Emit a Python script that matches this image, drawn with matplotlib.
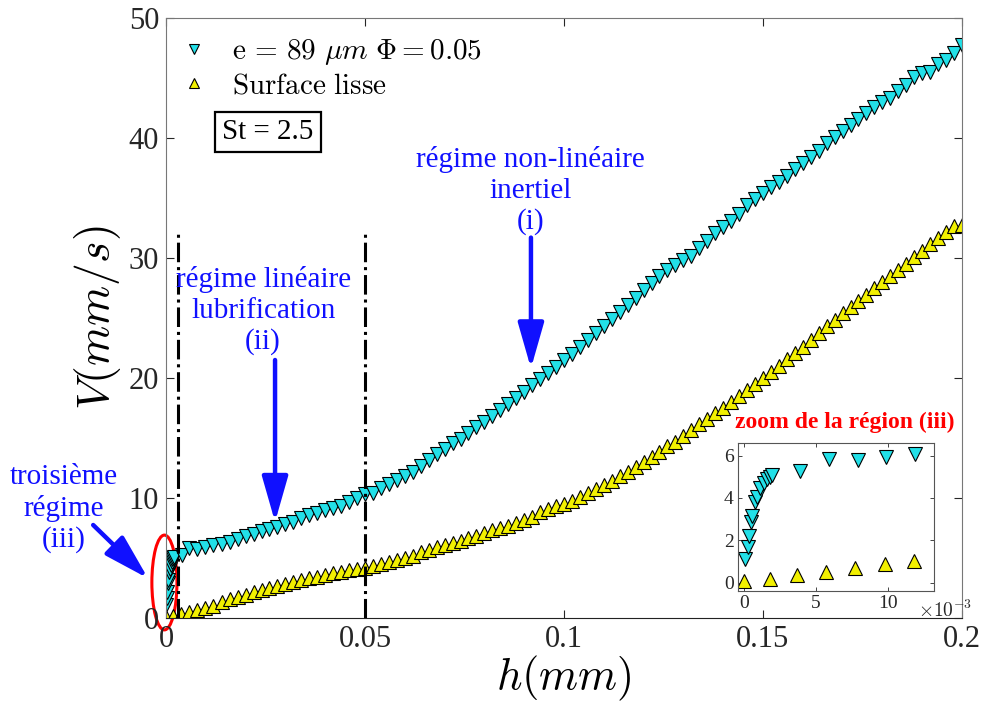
import numpy as np
import matplotlib
matplotlib.use('Agg')
import matplotlib.pyplot as plt
from matplotlib.patches import Ellipse

plt.rcParams['font.family'] = ['Liberation Serif', 'DejaVu Serif']
plt.rcParams['mathtext.fontset'] = 'cm'

# rough surface e = 89 um, Phi = 0.05 (cyan, down triangles)
h_rough = [0.00007, 0.00026, 0.00037, 0.00049, 0.00058, 0.00076, 0.00093, 0.00116, 0.00139, 0.00162, 0.00181, 0.00197,
           0.0039, 0.0059, 0.0079, 0.0099, 0.0119,
           0.014, 0.016, 0.018, 0.020, 0.022, 0.024, 0.026, 0.028, 0.030, 0.032, 0.034, 0.036, 0.038, 0.040,
           0.042, 0.044, 0.046, 0.048, 0.050, 0.052, 0.054, 0.056, 0.058, 0.060, 0.062, 0.064, 0.066, 0.068,
           0.070, 0.072, 0.074, 0.076, 0.078, 0.080, 0.082, 0.084, 0.086, 0.088, 0.090, 0.092, 0.094, 0.096,
           0.098, 0.100, 0.102, 0.104, 0.106, 0.108, 0.110, 0.112, 0.114, 0.116, 0.118, 0.120, 0.122, 0.124,
           0.126, 0.128, 0.130, 0.132, 0.134, 0.136, 0.138, 0.140, 0.142, 0.144, 0.146, 0.148, 0.150, 0.152,
           0.154, 0.156, 0.158, 0.160, 0.162, 0.164, 0.166, 0.168, 0.170, 0.172, 0.174, 0.176, 0.178, 0.180,
           0.182, 0.184, 0.186, 0.188, 0.190, 0.192, 0.194, 0.196, 0.198, 0.200]
v_rough = [1.1, 1.7, 2.2, 2.88, 3.16, 3.82, 4.06, 4.45, 4.69, 4.88, 5.0, 5.08,
           5.27, 5.82, 5.79, 5.92, 6.07,
           6.15, 6.33, 6.6, 6.82, 7.02, 7.22, 7.42, 7.62, 7.82, 8.03, 8.3, 8.56, 8.78, 8.97,
           9.15, 9.35, 9.65, 10.0, 10.3, 10.45, 10.8, 11.15, 11.5, 11.85, 12.2, 12.7, 13.2, 13.65,
           14.1, 14.55, 14.95, 15.4, 15.9, 16.35, 16.85, 17.35, 17.8, 18.3, 18.8, 19.4, 19.95, 20.45,
           20.95, 21.5, 22.0, 22.6, 23.2, 23.75, 24.3, 24.9, 25.5, 26.1, 26.7, 27.3, 27.95, 28.5,
           29.0, 29.4, 29.8, 30.2, 30.8, 31.4, 32.1, 32.6, 33.1, 33.7, 34.4, 34.9, 35.4, 35.9,
           36.3, 36.8, 37.4, 37.9, 38.4, 38.9, 39.6, 40.1, 40.6, 41.1, 41.6, 42.1, 42.6, 43.0,
           43.3, 43.9, 44.4, 45.1, 45.4, 45.5, 46.2, 46.5, 47.05, 47.75]

# smooth surface (yellow, up triangles)
h_smooth = [0.000, 0.0018, 0.0037, 0.0057, 0.0077, 0.0098, 0.0118,
            0.014, 0.016, 0.018, 0.020, 0.022, 0.024, 0.026, 0.028, 0.030, 0.032, 0.034, 0.036, 0.038, 0.040,
            0.042, 0.044, 0.046, 0.048, 0.050, 0.052, 0.054, 0.056, 0.058, 0.060, 0.062, 0.064, 0.066, 0.068,
            0.070, 0.072, 0.074, 0.076, 0.078, 0.080, 0.082, 0.084, 0.086, 0.088, 0.090, 0.092, 0.094, 0.096,
            0.098, 0.100, 0.102, 0.104, 0.106, 0.108, 0.110, 0.112, 0.114, 0.116, 0.118, 0.120, 0.122, 0.124,
            0.126, 0.128, 0.130, 0.132, 0.134, 0.136, 0.138, 0.140, 0.142, 0.144, 0.146, 0.148, 0.150, 0.152,
            0.154, 0.156, 0.158, 0.160, 0.162, 0.164, 0.166, 0.168, 0.170, 0.172, 0.174, 0.176, 0.178, 0.180,
            0.182, 0.184, 0.186, 0.188, 0.190, 0.192, 0.194, 0.196, 0.198, 0.200]
v_smooth = [0.05, 0.17, 0.36, 0.52, 0.68, 0.87, 1.02,
            1.36, 1.55, 1.72, 1.93, 2.14, 2.33, 2.52, 2.7, 2.87, 3.0, 3.15, 3.3, 3.44, 3.58,
            3.72, 3.85, 3.97, 4.08, 4.2, 4.35, 4.5, 4.67, 4.83, 5.0, 5.2, 5.5, 5.68, 5.88,
            6.05, 6.27, 6.43, 6.63, 6.85, 7.08, 7.3, 7.5, 7.7, 7.93, 8.17, 8.45, 8.8, 9.05,
            9.3, 9.5, 9.78, 10.1, 10.45, 10.78, 11.1, 11.45, 11.8, 12.2, 12.55, 13.0, 13.4, 13.85,
            14.3, 14.7, 15.15, 15.65, 16.15, 16.6, 17.1, 17.5, 18.0, 18.5, 19.0, 19.5, 20.0, 20.5,
            21.0, 21.6, 22.1, 22.6, 23.2, 23.75, 24.3, 24.8, 25.4, 25.9, 26.4, 26.9, 27.5, 28.0,
            28.5, 29.0, 29.5, 30.1, 30.6, 31.2, 31.7, 32.2, 32.7, 32.75]

cyan = '#22E0E8'
yellow = '#F2F000'
blue = '#1010FF'
dark = '#262626'

fig = plt.figure(figsize=(9.84, 7.08), dpi=100)
ax = fig.add_axes([0.1687, 0.1271, 0.8089, 0.8475])

ax.plot(h_rough, v_rough, 'v', ms=10, mfc=cyan, mec='black', mew=0.8,
        label=r'$\mathrm{e}\,=\,89\ \mu m\ \Phi = 0.05$')
ax.plot(h_smooth, v_smooth, '^', ms=10, mfc=yellow, mec='black', mew=0.8,
        label=r'$\mathrm{Surface\ lisse}$')

ax.set_xlim(0, 0.2)
ax.set_ylim(0, 50)
ax.set_xticks([0, 0.05, 0.1, 0.15, 0.2])
ax.set_xticklabels(['0', '0.05', '0.1', '0.15', '0.2'])
ax.set_yticks([0, 10, 20, 30, 40, 50])
ax.tick_params(direction='in', length=6, width=0.8, labelsize=22, colors=dark,
               top=True, right=True, pad=5)
for s in ['left', 'right', 'top']:
    ax.spines[s].set_color('#777777')
ax.spines['bottom'].set_color('#222222')

ax.set_xlabel(r'$h(mm)$', fontsize=32, labelpad=0)
ax.set_ylabel(r'$V(mm/s)$', fontsize=33, labelpad=4)

leg = ax.legend(loc='upper left', bbox_to_anchor=(-0.016, 1.012), frameon=False, fontsize=21,
                handlelength=1.0, handletextpad=0.8, labelspacing=0.2, markerscale=0.7)

ax.text(0.0256, 40.5, 'St = 2.5', fontsize=21, ha='center', va='center',
        bbox=dict(boxstyle='square,pad=0.25', fc='white', ec='black', lw=1.6))

# regime boundaries
ax.plot([0.0029, 0.0029], [0, 32.3], color='black', ls='-.', lw=2.2)
ax.plot([0.05, 0.05], [0, 32.3], color='black', ls='-.', lw=2.2)

# annotations
arrow = dict(arrowstyle='-|>,head_length=1.4,head_width=0.4', color=blue, lw=3.2,
             shrinkA=0, shrinkB=0, mutation_scale=20)
ax.text(0.0915, 35.6, u'régime non-linéaire\ninertiel\n(i)', color=blue, fontsize=21,
        ha='center', va='center', linespacing=1.22)
ax.annotate('', xy=(0.0917, 20.8), xytext=(0.0917, 31.7), arrowprops=arrow)
ax.text(0.0244, 25.6, u'régime linéaire\nlubrification\n(ii)', color=blue, fontsize=21,
        ha='center', va='center', linespacing=1.22)
ax.annotate('', xy=(0.0274, 8.0), xytext=(0.0274, 21.5), arrowprops=arrow)
ax.text(-0.0256, 9.1, u'troisième\nrégime\n(iii)', color=blue, fontsize=21,
        ha='center', va='center', linespacing=1.22, clip_on=False)
ax.annotate('', xy=(-0.0045, 3.3), xytext=(-0.0183, 7.75), arrowprops=arrow,
            annotation_clip=False)
ax.add_patch(Ellipse((-0.0004, 2.96), 0.0063, 7.9, fill=False, ec='red', lw=2.2, clip_on=False))

# inset: zoom on region (iii)
ins = fig.add_axes([0.75, 0.1653, 0.1992, 0.209])
ins.plot(h_rough, v_rough, 'v', ms=9.5, mfc=cyan, mec='black', mew=0.8)
ins.plot(h_smooth, v_smooth, '^', ms=9.5, mfc=yellow, mec='black', mew=0.8)
ins.set_xlim(-0.0004, 0.0132)
ins.set_ylim(-0.4, 6.6)
ins.set_xticks([0, 0.005, 0.01])
ins.set_xticklabels(['0', '5', '10'])
ins.set_yticks([0, 2, 4, 6])
ins.tick_params(direction='in', length=3, width=0.6, labelsize=14, colors=dark,
                top=True, right=True, pad=3)
for s in ins.spines.values():
    s.set_color('#555555')
ins.text(0.92, -0.13, r'$\times10^{-3}$', transform=ins.transAxes, fontsize=14,
         color=dark, ha='left', va='center')
fig.text(0.8587, 0.404, u'zoom de la région (iii)', color='red', fontsize=17,
         fontweight='bold', ha='center', va='center')

fig.savefig('out.png', dpi=100)
